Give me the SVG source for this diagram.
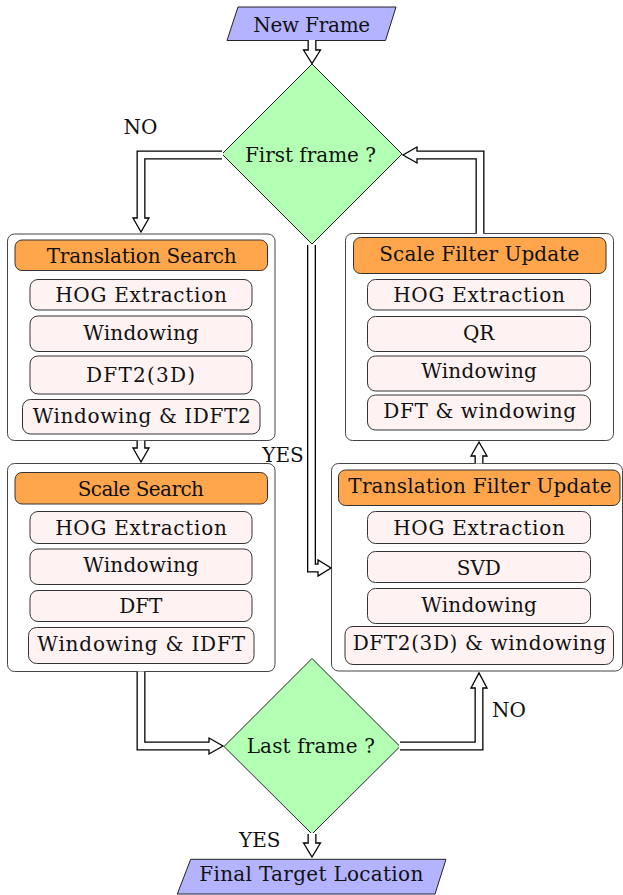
<svg xmlns="http://www.w3.org/2000/svg" width="623" height="895" viewBox="0 0 623 895">
<style>
text{font-family:'DejaVu Serif','Liberation Serif',serif;font-size:20px;fill:#111;text-anchor:middle}
.io{fill:#B3B3FF;stroke:#222;stroke-width:1}
.dec{fill:#B3FFB3;stroke:#222;stroke-width:1}
.outer{fill:#fff;stroke:#444;stroke-width:1}
.head{fill:#FFA64D;stroke:#333;stroke-width:1}
.step{fill:#FFF2F2;stroke:#333;stroke-width:1}
.so{fill:none;stroke:#000;stroke-width:9;stroke-linejoin:miter}
.si{fill:none;stroke:#fff;stroke-width:6.4;stroke-linejoin:miter}
.ah{fill:#fff;stroke:#000;stroke-width:1.3;stroke-linejoin:miter}
</style>
<rect width="623" height="895" fill="#fff"/>

<g id="new-frame">
<polygon class="io" points="238,7 396,7 385.5,40.5 227,40.5"/>
<text x="311.7" y="31.7" textLength="117">New Frame</text>
</g>

<g id="first-frame">
<polygon class="dec" points="312,64 402,154 312,244 222,154"/>
<text x="310.5" y="161.7" textLength="131">First frame ?</text>
</g>

<g id="translation-search">
<rect class="outer" x="7.5" y="234" width="267.5" height="206.5" rx="7"/>
<rect class="head" x="15" y="240" width="252.5" height="30.5" rx="7"/>
<text x="141.7" y="263.3" textLength="190">Translation Search</text>
<rect class="step" x="30" y="279.5" width="222" height="30.5" rx="8"/>
<text x="141" y="301.7" textLength="171.7">HOG Extraction</text>
<rect class="step" x="30" y="316" width="222" height="35.5" rx="8"/>
<text x="141" y="340" textLength="115.7">Windowing</text>
<rect class="step" x="30" y="356" width="222" height="38" rx="8"/>
<text x="140.5" y="381.7" textLength="109">DFT2(3D)</text>
<rect class="step" x="22.5" y="399.5" width="237.5" height="34.5" rx="8"/>
<text x="141.7" y="423.3" textLength="218">Windowing &amp; IDFT2</text>
</g>

<g id="scale-search">
<rect class="outer" x="7.5" y="463.5" width="267.5" height="208" rx="7"/>
<rect class="head" x="15" y="472.5" width="252.5" height="31.5" rx="7"/>
<text x="140.8" y="495.7" textLength="126.3">Scale Search</text>
<rect class="step" x="30" y="511.5" width="222" height="32" rx="8"/>
<text x="141" y="535" textLength="171.7">HOG Extraction</text>
<rect class="step" x="30" y="549" width="222" height="35.5" rx="8"/>
<text x="141" y="572.3" textLength="115.7">Windowing</text>
<rect class="step" x="30" y="590.5" width="222" height="31" rx="8"/>
<text x="140.8" y="613.3">DFT</text>
<rect class="step" x="28.5" y="627.5" width="225.5" height="36" rx="8"/>
<text x="141.2" y="650.7" textLength="207.7">Windowing &amp; IDFT</text>
</g>

<g id="scale-filter-update">
<rect class="outer" x="345.5" y="233.5" width="268" height="207" rx="7"/>
<rect class="head" x="353.5" y="237.5" width="252.5" height="36" rx="7"/>
<text x="479.3" y="260.7" textLength="200">Scale Filter Update</text>
<rect class="step" x="367.5" y="279.5" width="223" height="30.5" rx="8"/>
<text x="479" y="301.7" textLength="171.7">HOG Extraction</text>
<rect class="step" x="367.5" y="316.5" width="223" height="35" rx="8"/>
<text x="478.7" y="340">QR</text>
<rect class="step" x="367.5" y="356" width="223" height="35" rx="8"/>
<text x="479" y="378.3" textLength="115.7">Windowing</text>
<rect class="step" x="367.5" y="395" width="223" height="35" rx="8"/>
<text x="479.7" y="418.3" textLength="192.7">DFT &amp; windowing</text>
</g>

<g id="translation-filter-update">
<rect class="outer" x="331.5" y="463.5" width="291" height="207.5" rx="7"/>
<rect class="head" x="338.5" y="470" width="281.5" height="35.5" rx="7"/>
<text x="480" y="493.3" textLength="263.3">Translation Filter Update</text>
<rect class="step" x="367.5" y="511.5" width="223" height="32" rx="8"/>
<text x="479" y="535" textLength="171.7">HOG Extraction</text>
<rect class="step" x="367.5" y="551.5" width="223" height="31" rx="8"/>
<text x="478.8" y="575">SVD</text>
<rect class="step" x="367.5" y="588.5" width="223" height="35" rx="8"/>
<text x="479" y="611.7" textLength="115.7">Windowing</text>
<rect class="step" x="345" y="626.5" width="268.5" height="38" rx="8"/>
<text x="479.3" y="650" textLength="253.3">DFT2(3D) &amp; windowing</text>
</g>

<g id="last-frame">
<polygon class="dec" points="312,658.5 400,746.5 312,834 224,746.5"/>
<text x="310.8" y="753.3" textLength="128.3">Last frame ?</text>
</g>

<g id="final-target">
<polygon class="io" points="190.7,859.3 446,859.3 435,894 177.3,894"/>
<text x="311.3" y="881" textLength="224">Final Target Location</text>
</g>

<g id="connectors">
<path class="so" d="M312,40.5 V50"/>
<polygon class="ah" points="303.5,50 320.5,50 312,63.5"/>
<path class="si" d="M312,40 V52"/>
<path class="so" d="M222,155 H141 V218"/>
<polygon class="ah" points="133,218 149,218 141,232"/>
<path class="si" d="M223,155 H141 V220"/>
<path class="so" d="M480,233 V155 H417"/>
<polygon class="ah" points="417,147 417,163 403,155"/>
<path class="si" d="M480,234 V155 H415"/>
<path class="so" d="M311.5,245 V568 H318"/>
<polygon class="ah" points="318,560 318,576 331,568"/>
<path class="si" d="M311.5,244 V568 H320"/>
<path class="so" d="M141,441 V448"/>
<polygon class="ah" points="133,448 149,448 141,462"/>
<path class="si" d="M141,440.5 V450"/>
<path class="so" d="M479,463 V456"/>
<polygon class="ah" points="471,456 487,456 479,442"/>
<path class="si" d="M479,463.5 V454"/>
<path class="so" d="M141,672 V746 H209"/>
<polygon class="ah" points="209,738 209,754 223,746"/>
<path class="si" d="M141,671.5 V746 H211"/>
<path class="so" d="M400,746 H479 V688"/>
<polygon class="ah" points="471,688 487,688 479,673"/>
<path class="si" d="M399,746 H479 V686"/>
<path class="so" d="M312,834 V843"/>
<polygon class="ah" points="303.5,843 320.5,843 312,857"/>
<path class="si" d="M312,833 V845"/>
</g>

<g id="labels">
<text x="140.5" y="134">NO</text>
<text x="283" y="461.7">YES</text>
<text x="509" y="716.7">NO</text>
<text x="259.7" y="847.3">YES</text>
</g>
</svg>
